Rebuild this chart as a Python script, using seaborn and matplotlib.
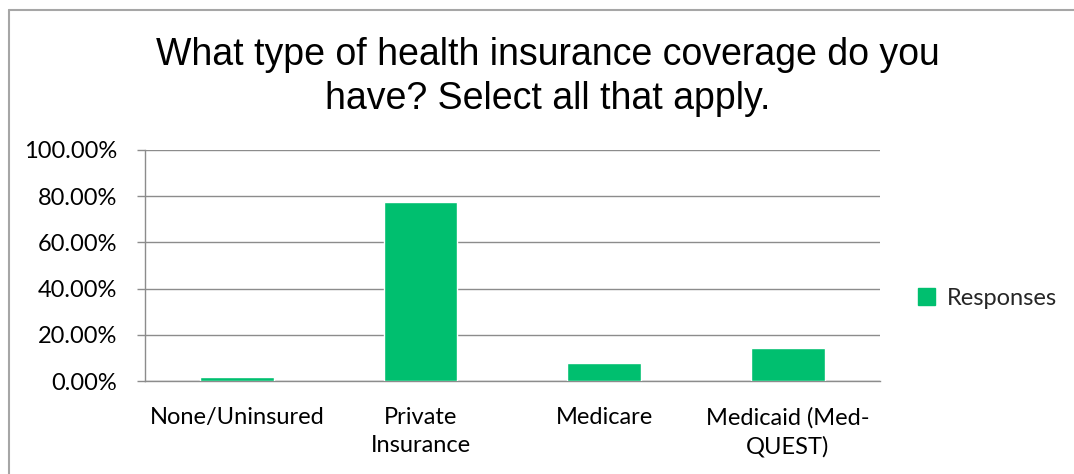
import matplotlib
matplotlib.use("Agg")
import matplotlib.pyplot as plt
import matplotlib.patches as mpatches
from matplotlib.lines import Line2D
from matplotlib.ticker import FixedLocator, PercentFormatter
import seaborn as sns
import pandas as pd

categories = ["None/Uninsured", "Private\nInsurance", "Medicare", "Medicaid (Med-\nQUEST)"]
responses = [1.7, 77.6, 7.9, 14.1]
y_ticks = [0, 20, 40, 60, 80, 100]
series_name = "Responses"
title = "What type of health insurance coverage do you\nhave? Select all that apply."

bar_color = "#00BF6F"
grid_color = "#8C8C8C"
label_font = ["Lato", "DejaVu Sans"]
label_size = 17

sns.set_theme(style="white")
plt.rcParams["font.family"] = ["Liberation Sans", "DejaVu Sans"]

df = pd.DataFrame({"category": categories, "value": responses})

fig = plt.figure(figsize=(10.74, 4.74), dpi=100)
ax = fig.add_axes([0.135, 0.196, 0.684, 0.488])

sns.barplot(data=df, x="category", y="value", color=bar_color, width=0.4,
            saturation=1, ax=ax, zorder=3)

ax.set_ylim(0, 100)
ax.set_xlim(-0.5, len(categories) - 0.5)
ax.yaxis.set_major_locator(FixedLocator(y_ticks))
ax.yaxis.set_major_formatter(PercentFormatter(decimals=2))
ax.grid(axis="y", color=grid_color, linewidth=1, zorder=0)
ax.set_xlabel("")
ax.set_ylabel("")

for side in ["top", "right"]:
    ax.spines[side].set_visible(False)
for side in ["left", "bottom"]:
    ax.spines[side].set_color(grid_color)
    ax.spines[side].set_linewidth(1)

# category labels sit between boundary tick marks
ax.tick_params(axis="x", which="major", length=0, pad=19)
ax.set_xticks(range(len(categories)))
ax.set_xticklabels(categories, fontfamily=label_font, fontsize=label_size,
                   color="#000000", linespacing=1.4)
ax.set_xticks([i - 0.5 for i in range(len(categories) + 1)], minor=True)
ax.tick_params(axis="x", which="minor", length=7, width=1, color=grid_color,
               direction="inout")
ax.tick_params(axis="y", length=6, width=1, color=grid_color, pad=14,
               direction="out", left=True)
for lab in ax.get_yticklabels():
    lab.set_fontfamily(label_font)
    lab.set_fontsize(label_size)
    lab.set_color("#000000")

fig.text(0.51, 0.838, title, ha="center", va="center", fontsize=27,
         color="#000000", linespacing=1.3)

handle = mpatches.Patch(color=bar_color, label=series_name)
leg = fig.legend(handles=[handle], loc="center left", bbox_to_anchor=(0.855, 0.371),
                 frameon=False, handlelength=0.7, handleheight=0.7,
                 handletextpad=0.5, borderpad=0, borderaxespad=0,
                 prop={"family": label_font, "size": label_size})

# chart area frame along the top and left edges
frame_x = 8.5 / 1074
frame_y = 1 - 9.5 / 474
fig.add_artist(Line2D([frame_x, 1.0], [frame_y, frame_y], transform=fig.transFigure,
                      color="#A6A6A6", linewidth=1.5))
fig.add_artist(Line2D([frame_x, frame_x], [0.0, frame_y], transform=fig.transFigure,
                      color="#A6A6A6", linewidth=1.5))

fig.savefig("out.png", dpi=100, facecolor="white")
